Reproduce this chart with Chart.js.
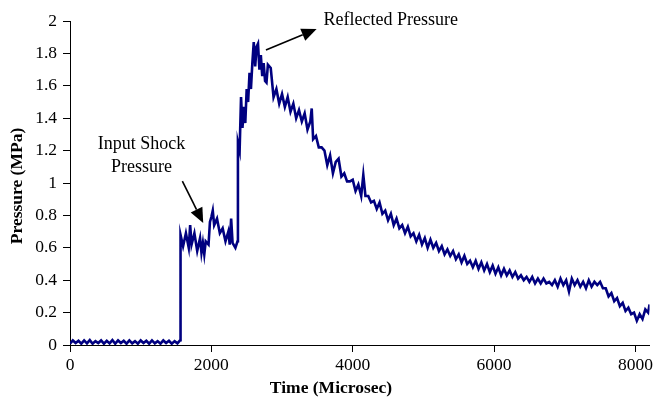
<!DOCTYPE html>
<html>
<head>
<meta charset="utf-8">
<script src="https://cdn.jsdelivr.net/npm/chart.js@4.4.1/dist/chart.umd.min.js"></script>
<style>
  html, body { margin: 0; padding: 0; background: #fff; }
  #wrap { width: 656px; height: 401px; }
</style>
</head>
<body>
<div id="wrap"><canvas id="pressureChart" width="656" height="401"></canvas></div>
<script>
// Pressure trace (time in microseconds, pressure in MPa)
const timeUs = [
  0, 40, 80, 120, 160, 200, 240, 280, 320, 360,
  400, 440, 480, 520, 560, 600, 640, 680, 720, 760,
  800, 840, 880, 920, 960, 1000, 1040, 1080, 1120, 1160,
  1200, 1240, 1280, 1320, 1360, 1400, 1440, 1480, 1520, 1560,
  1564, 1600, 1640, 1680, 1700, 1720, 1760, 1800, 1840, 1860,
  1880, 1900, 1920, 1960, 1980, 2000, 2020, 2040, 2080, 2120,
  2160, 2200, 2240, 2260, 2280, 2300, 2340, 2370, 2376, 2400,
  2420, 2440, 2460, 2480, 2500, 2520, 2540, 2560, 2580, 2600,
  2620, 2640, 2660, 2680, 2700, 2720, 2740, 2760, 2780, 2800,
  2840, 2880, 2920, 2960, 3000, 3040, 3080, 3120, 3160, 3200,
  3240, 3280, 3320, 3360, 3400, 3420, 3440, 3480, 3520, 3560,
  3600, 3640, 3680, 3720, 3760, 3800, 3840, 3880, 3920, 3960,
  4000, 4040, 4080, 4120, 4150, 4180, 4220, 4260, 4300, 4340,
  4380, 4420, 4460, 4500, 4540, 4580, 4620, 4660, 4700, 4740,
  4780, 4820, 4860, 4900, 4940, 4980, 5020, 5060, 5100, 5140,
  5180, 5220, 5260, 5300, 5340, 5380, 5420, 5460, 5500, 5540,
  5580, 5620, 5660, 5700, 5740, 5780, 5820, 5860, 5900, 5940,
  5980, 6020, 6060, 6100, 6140, 6180, 6220, 6260, 6300, 6340,
  6380, 6420, 6460, 6500, 6540, 6580, 6620, 6660, 6700, 6740,
  6780, 6820, 6860, 6900, 6940, 6980, 7020, 7060, 7100, 7140,
  7180, 7220, 7260, 7300, 7340, 7380, 7420, 7460, 7500, 7540,
  7580, 7620, 7660, 7700, 7740, 7780, 7820, 7860, 7900, 7940,
  7980, 8020, 8060, 8100, 8140, 8180, 8200
];

const pressureMPa = [
  0.008, 0.028, 0.012, 0.026, 0.008, 0.028, 0.01, 0.03, 0.008, 0.024,
  0.012, 0.028, 0.008, 0.026, 0.01, 0.03, 0.008, 0.028, 0.012, 0.026,
  0.008, 0.028, 0.01, 0.024, 0.008, 0.028, 0.012, 0.026, 0.008, 0.028,
  0.01, 0.024, 0.008, 0.028, 0.012, 0.026, 0.008, 0.024, 0.01, 0.03,
  0.68, 0.61, 0.69, 0.60, 0.74, 0.62, 0.69, 0.58, 0.66, 0.57,
  0.63, 0.56, 0.64, 0.62, 0.76, 0.79, 0.83, 0.74, 0.78, 0.69,
  0.72, 0.64, 0.70, 0.62, 0.78, 0.63, 0.60, 0.64, 1.25, 1.20,
  1.53, 1.34, 1.47, 1.37, 1.58, 1.50, 1.68, 1.58, 1.74, 1.87,
  1.72, 1.84, 1.86, 1.70, 1.79, 1.66, 1.74, 1.63, 1.62, 1.73,
  1.71, 1.53, 1.58, 1.49, 1.55, 1.47, 1.53, 1.44, 1.49, 1.40,
  1.45, 1.38, 1.43, 1.33, 1.38, 1.46, 1.27, 1.29, 1.22, 1.22,
  1.20, 1.11, 1.17, 1.06, 1.13, 1.15, 1.04, 1.06, 1.01, 1.01,
  1.02, 0.95, 0.99, 0.92, 1.05, 0.92, 0.92, 0.88, 0.89, 0.84,
  0.88, 0.81, 0.83, 0.77, 0.81, 0.74, 0.78, 0.72, 0.74, 0.69,
  0.73, 0.67, 0.69, 0.64, 0.68, 0.62, 0.66, 0.60, 0.65, 0.60,
  0.63, 0.58, 0.61, 0.56, 0.59, 0.55, 0.58, 0.53, 0.56, 0.51,
  0.55, 0.50, 0.52, 0.48, 0.52, 0.47, 0.51, 0.46, 0.50, 0.45,
  0.49, 0.44, 0.48, 0.43, 0.47, 0.43, 0.46, 0.42, 0.45, 0.41,
  0.43, 0.40, 0.42, 0.39, 0.42, 0.38, 0.41, 0.38, 0.41, 0.38,
  0.39, 0.37, 0.40, 0.36, 0.41, 0.37, 0.40, 0.33, 0.41, 0.37,
  0.40, 0.36, 0.39, 0.35, 0.40, 0.36, 0.39, 0.37, 0.39, 0.35,
  0.35, 0.30, 0.32, 0.27, 0.29, 0.24, 0.26, 0.21, 0.23, 0.19,
  0.20, 0.15, 0.19, 0.16, 0.22, 0.20, 0.25
];

const xTicks = [0, 2000, 4000, 6000, 8000];
const yTickLabels = ['0', '0.2', '0.4', '0.6', '0.8', '1', '1.2', '1.4', '1.6', '1.8', '2'];

const xTitle = 'Time (Microsec)';
const yTitle = 'Pressure (MPa)';

// annotation text + arrow, given in data units
const notes = [
  { lines: ['Input Shock', 'Pressure'], x: 1013, y: [1.24, 1.10], align: 'center',
    from: [1590, 1.012], to: [1885, 0.753] },
  { lines: ['Reflected Pressure'], x: 3588, y: [2.005], align: 'left',
    from: [2772, 1.821], to: [3489, 1.951] }
];

const serif = '"Liberation Serif", "Times New Roman", serif';

function drawArrow(ctx, x1, y1, x2, y2) {
  const ang = Math.atan2(y2 - y1, x2 - x1);
  const len = 15, half = 6.5;
  const bx = x2 - len * Math.cos(ang), by = y2 - len * Math.sin(ang);
  ctx.beginPath();
  ctx.moveTo(x1, y1);
  ctx.lineTo(bx, by);
  ctx.stroke();
  ctx.beginPath();
  ctx.moveTo(x2, y2);
  ctx.lineTo(bx + half * Math.sin(ang), by - half * Math.cos(ang));
  ctx.lineTo(bx - half * Math.sin(ang), by + half * Math.cos(ang));
  ctx.closePath();
  ctx.fill();
}

const notesPlugin = {
  id: 'notes',
  afterDraw(chart) {
    const ctx = chart.ctx;
    const xs = chart.scales.x, ys = chart.scales.y;
    ctx.save();
    ctx.fillStyle = '#000';
    ctx.strokeStyle = '#000';
    ctx.lineWidth = 1.6;
    ctx.textBaseline = 'middle';
    ctx.font = '18px ' + serif;
    notes.forEach(n => {
      ctx.textAlign = n.align;
      n.lines.forEach((t, i) => {
        ctx.fillText(t, xs.getPixelForValue(n.x), ys.getPixelForValue(n.y[i]));
      });
      drawArrow(ctx,
        xs.getPixelForValue(n.from[0]), ys.getPixelForValue(n.from[1]),
        xs.getPixelForValue(n.to[0]), ys.getPixelForValue(n.to[1]));
    });

    // axis titles
    ctx.font = 'bold 17.5px ' + serif;
    ctx.textAlign = 'center';
    ctx.fillText(xTitle, 331, 388);
    ctx.translate(17, 186);
    ctx.rotate(-Math.PI / 2);
    ctx.fillText(yTitle, 0, 0);
    ctx.restore();
  }
};

new Chart(document.getElementById('pressureChart'), {
  type: 'line',
  data: {
    datasets: [{
      data: timeUs.map((t, i) => ({ x: t, y: pressureMPa[i] })),
      borderColor: '#000080',
      borderWidth: 2.6,
      pointRadius: 0,
      tension: 0,
      fill: false
    }]
  },
  options: {
    responsive: false,
    animation: false,
    layout: { padding: { top: 21, right: 3, left: 0, bottom: 0 } },
    plugins: { legend: { display: false }, tooltip: { enabled: false } },
    scales: {
      x: {
        type: 'linear',
        min: 0,
        max: 8200,
        afterFit: s => { s.height = 56; },
        afterBuildTicks: s => { s.ticks = xTicks.map(v => ({ value: v })); },
        ticks: {
          color: '#000',
          padding: 3,
          maxRotation: 0,
          font: { family: serif, size: 17.5 },
          callback: v => String(v)
        },
        grid: { drawOnChartArea: false, color: '#000', tickLength: 7, tickWidth: 1 },
        border: { color: '#000', width: 1 }
      },
      y: {
        min: 0,
        max: 2,
        afterFit: s => { s.width = 70; },
        afterBuildTicks: s => { s.ticks = yTickLabels.map(l => ({ value: parseFloat(l) })); },
        ticks: {
          color: '#000',
          padding: 6,
          font: { family: serif, size: 17.5 },
          callback: (v, i) => yTickLabels[i]
        },
        grid: { drawOnChartArea: false, color: '#000', tickLength: 7, tickWidth: 1 },
        border: { color: '#000', width: 1 }
      }
    }
  },
  plugins: [notesPlugin]
});
</script>
</body>
</html>
